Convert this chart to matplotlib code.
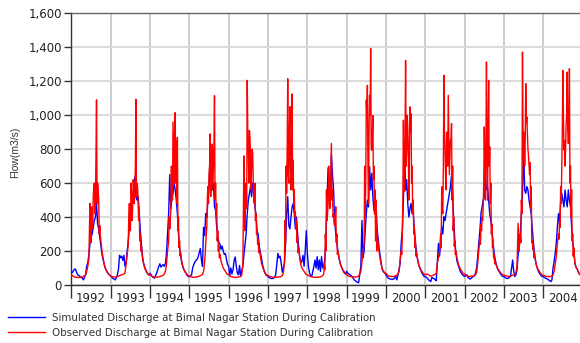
import numpy as np
import pandas as pd
import matplotlib
matplotlib.use("Agg")
import matplotlib.pyplot as plt
import matplotlib.dates as mdates
from matplotlib.ticker import FuncFormatter
from matplotlib.lines import Line2D

# ---- data: values, ~10-day steps (36 per year) ----
years = list(range(1992, 2005))

sim_1992 = [69,75,85,95,90,70,60,55,50,45,40,30,45,60,110,130,180,240,280,300,340,380,400,480,360,330,280,230,180,150,120,100,85,75,65,58]
obs_1992 = [60,55,50,48,45,45,45,45,45,48,45,50,55,60,80,110,150,480,250,400,520,600,500,1090,600,500,350,260,200,160,125,100,85,72,65,58]
sim_1993 = [53,45,38,35,30,40,60,90,175,160,170,145,175,110,130,200,260,340,420,470,540,560,637,520,500,520,430,320,245,170,130,105,90,75,65,58]
obs_1993 = [53,50,48,47,46,48,50,52,55,58,60,62,66,70,120,180,240,480,320,540,450,580,560,1094,600,500,460,300,230,160,125,100,85,75,65,60]
sim_1994 = [69,60,50,45,40,55,70,90,110,125,105,115,120,110,125,185,300,420,650,450,510,540,600,560,500,420,300,220,170,130,105,90,78,65,55,50]
obs_1994 = [60,55,50,48,46,46,46,47,48,50,52,55,58,65,80,120,200,260,330,450,580,960,600,1015,850,870,400,260,190,140,110,90,78,68,60,55]
sim_1995 = [50,55,60,100,120,135,145,150,165,190,215,150,110,340,290,420,400,500,580,790,730,560,600,460,440,340,290,250,240,210,230,200,180,185,150,120]
obs_1995 = [50,48,47,46,45,46,47,48,50,52,55,58,62,80,140,250,350,580,650,890,600,830,700,1115,600,480,320,230,180,140,120,100,90,80,70,62]
sim_1996 = [110,55,100,65,90,145,165,110,70,60,115,50,85,110,180,240,300,420,500,540,580,520,600,560,460,420,320,300,230,190,160,120,95,75,60,55]
obs_1996 = [60,55,50,48,46,45,45,45,46,47,48,50,60,120,760,320,600,1205,790,910,770,700,780,500,600,420,330,270,220,170,130,110,90,75,65,58]
sim_1997 = [50,45,40,38,38,40,45,60,120,186,160,170,130,75,100,130,240,420,520,350,330,400,460,480,420,330,400,300,220,165,130,140,175,110,200,320]
obs_1997 = [55,52,50,48,46,45,45,46,46,47,48,48,50,55,70,130,250,540,1215,600,1050,560,1125,735,560,430,380,290,220,160,120,100,90,80,70,62]
sim_1998 = [186,110,70,55,50,80,110,147,100,167,90,147,80,167,100,115,150,280,500,690,580,520,770,650,560,380,300,250,200,160,130,110,95,80,70,65]
obs_1998 = [60,55,52,50,48,47,46,45,45,45,46,47,48,50,55,65,90,200,380,480,617,500,833,560,420,350,460,300,200,160,130,110,95,85,75,70]
sim_1999 = [80,70,65,60,55,50,40,30,25,20,15,14,60,110,380,160,200,320,420,500,460,696,560,657,520,440,500,460,320,265,200,160,110,85,75,70]
obs_1999 = [60,55,52,50,50,48,48,48,47,47,50,55,65,80,130,186,250,400,1088,1176,480,1117,1392,794,998,700,560,500,300,230,180,140,110,90,80,70]
sim_2000 = [60,50,40,38,35,34,33,35,40,50,30,60,90,127,250,320,500,833,560,620,480,400,450,480,420,430,330,250,190,150,120,100,85,70,60,50]
obs_2000 = [70,62,55,52,50,50,50,50,52,55,58,65,80,150,200,300,970,550,1323,794,931,500,1049,1009,700,500,350,260,190,150,120,105,90,80,70,65]
sim_2001 = [50,45,38,30,25,20,45,40,38,30,25,140,245,170,245,343,300,402,380,420,460,500,539,578,650,539,380,265,186,140,120,100,80,70,60,55]
obs_2001 = [60,62,65,60,55,52,55,58,60,62,70,127,160,200,300,578,420,1235,794,560,794,1117,650,853,951,700,400,260,200,160,130,110,95,85,75,65]
sim_2002 = [50,55,60,45,40,35,40,45,50,55,70,100,170,250,320,421,460,500,520,657,560,578,500,420,380,320,260,190,150,120,100,85,75,65,55,50]
obs_2002 = [65,60,55,52,50,50,52,52,53,55,60,75,130,206,280,360,400,460,931,500,1313,500,1205,813,600,360,260,180,140,115,100,90,80,72,65,60]
sim_2003 = [50,45,40,38,40,45,50,100,147,80,50,60,90,180,220,304,420,539,813,560,540,580,560,500,460,420,330,250,180,140,110,90,75,65,55,50]
obs_2003 = [58,56,54,52,50,50,52,55,58,60,65,75,110,363,200,300,500,1372,735,700,1186,990,800,700,720,580,260,240,190,140,110,95,85,75,65,60]
sim_2004 = [50,45,40,38,35,30,25,20,30,100,140,186,250,343,420,360,500,539,500,460,560,500,460,560,500,460,340,250,200,130,105,95,80,65,60,55]
obs_2004 = [58,55,52,50,50,50,50,50,52,60,80,120,170,250,300,380,580,696,1264,794,700,950,1254,833,1274,700,560,300,220,130,105,95,80,65,60,58]

# observed flow at the half-steps of the monsoon (steps 14.5 .. 27.5)
obs_mid_1992 = [95,130,320,300,460,330,580,420,760,480,560,300,290,230]
obs_mid_1993 = [150,210,420,400,600,380,620,480,700,520,580,380,260,200]
obs_mid_1994 = [100,160,230,400,380,700,500,780,700,600,480,320,220,170]
obs_mid_1995 = [180,300,520,480,700,520,780,560,820,500,420,260,200,160]
obs_mid_1996 = [400,560,450,900,600,860,560,800,620,480,380,300,240,190]
obs_mid_1997 = [100,380,700,800,650,900,700,800,560,470,400,330,250,190]
obs_mid_1998 = [60,120,300,560,420,700,450,680,500,400,360,380,250,180]
obs_mid_1999 = [160,220,700,600,1000,700,900,1000,800,860,620,420,260,200]
obs_mid_2000 = [180,500,600,850,700,1000,750,800,900,600,420,300,220,170]
obs_mid_2001 = [220,450,700,900,650,900,700,900,750,850,500,320,230,180]
obs_mid_2002 = [240,320,380,600,700,800,760,900,700,480,300,220,160,125]
obs_mid_2003 = [280,250,420,900,900,850,950,900,760,650,450,250,210,160]
obs_mid_2004 = [270,340,480,900,1000,850,800,1000,900,900,600,400,260,170]
mid_first_step = 14

sim_by_year = [sim_1992, sim_1993, sim_1994, sim_1995, sim_1996, sim_1997, sim_1998,
               sim_1999, sim_2000, sim_2001, sim_2002, sim_2003, sim_2004]
obs_by_year = [obs_1992, obs_1993, obs_1994, obs_1995, obs_1996, obs_1997, obs_1998,
               obs_1999, obs_2000, obs_2001, obs_2002, obs_2003, obs_2004]
obs_mid_by_year = [obs_mid_1992, obs_mid_1993, obs_mid_1994, obs_mid_1995, obs_mid_1996,
                   obs_mid_1997, obs_mid_1998, obs_mid_1999, obs_mid_2000, obs_mid_2001,
                   obs_mid_2002, obs_mid_2003, obs_mid_2004]

y_ticks = [0, 200, 400, 600, 800, 1000, 1200, 1400, 1600]
sim_label = "Simulated Discharge at Bimal Nagar Station During Calibration"
obs_label = "Observed Discharge at Bimal Nagar Station During Calibration"
y_label = "Flow(m3/s)"

# ---- build time axis ----
sim_dates, sim, obs_dates, obs = [], [], [], []
for yr, s, o, om in zip(years, sim_by_year, obs_by_year, obs_mid_by_year):
    start = pd.Timestamp(f"{yr}-01-01")
    n = len(s)
    step = 365.25 / n
    for k, v in enumerate(s):
        sim_dates.append(start + pd.Timedelta(days=k * step))
        sim.append(v)
    pts = [(k * step, v) for k, v in enumerate(o)]
    pts += [((mid_first_step + j + 0.5) * step, v) for j, v in enumerate(om)]
    pts.sort()
    for d, v in pts:
        obs_dates.append(start + pd.Timedelta(days=d))
        obs.append(v)

# ---- figure ----
W, H = 580, 343
fig = plt.figure(figsize=(W / 100, H / 100), dpi=100)
left_px, right_px, top_px, bot_px = 71.4, 582.6, 13.3, 285.0
ax = fig.add_axes([left_px / W, 1 - bot_px / H, (right_px - left_px) / W, (bot_px - top_px) / H])

ax.plot(sim_dates, sim, color="#0000FF", lw=1.0, zorder=3)
ax.plot(obs_dates, obs, color="#FF0000", lw=1.0, zorder=4)

ax.set_xlim(pd.Timestamp("1992-01-01"), pd.Timestamp("2005-01-01"))
ax.set_ylim(0, 1600)
ax.set_yticks(y_ticks)
ax.yaxis.set_major_formatter(FuncFormatter(lambda v, p: f"{int(v):,}"))

ax.xaxis.set_major_locator(mdates.YearLocator())
ax.xaxis.set_major_formatter(plt.NullFormatter())
ax.xaxis.set_minor_locator(mdates.MonthLocator(bymonth=7, bymonthday=1))
ax.xaxis.set_minor_formatter(mdates.DateFormatter("%Y"))

ax.tick_params(axis="x", which="major", length=9, width=1, color="#333333", direction="out")
ax.tick_params(axis="x", which="minor", length=0, pad=5, labelsize=8.5, labelcolor="#222222")
ax.tick_params(axis="y", which="major", length=5, width=1, color="#333333", labelsize=8.5,
               labelcolor="#222222", pad=2)

ax.grid(axis="y", color="#DCDCDC", lw=1.5, zorder=0)
ax.grid(axis="x", which="major", color="#C4C4C4", lw=1.2, zorder=0)
ax.set_axisbelow(True)

for side in ["left", "bottom"]:
    ax.spines[side].set_color("#333333")
    ax.spines[side].set_linewidth(1.0)
ax.spines["top"].set_color("#666666")
ax.spines["top"].set_linewidth(1.0)
ax.spines["right"].set_visible(False)

fig.text(15 / W, 1 - 152 / H, y_label, rotation=90, ha="center", va="center",
         fontsize=7.5, family="Liberation Sans", color="#333333")

handles = [Line2D([], [], color="#0000FF", lw=1.0), Line2D([], [], color="#FF0000", lw=1.0)]
leg = fig.legend(handles, [sim_label, obs_label], loc="upper left",
                 bbox_to_anchor=(8 / W, 1 - 313 / H), frameon=False, fontsize=7.4,
                 handlelength=3.6, handletextpad=0.68, labelspacing=0.49,
                 borderpad=0, borderaxespad=0)
for t in leg.get_texts():
    t.set_color("#333333")

fig.savefig("out.png", dpi=100, facecolor="white")
